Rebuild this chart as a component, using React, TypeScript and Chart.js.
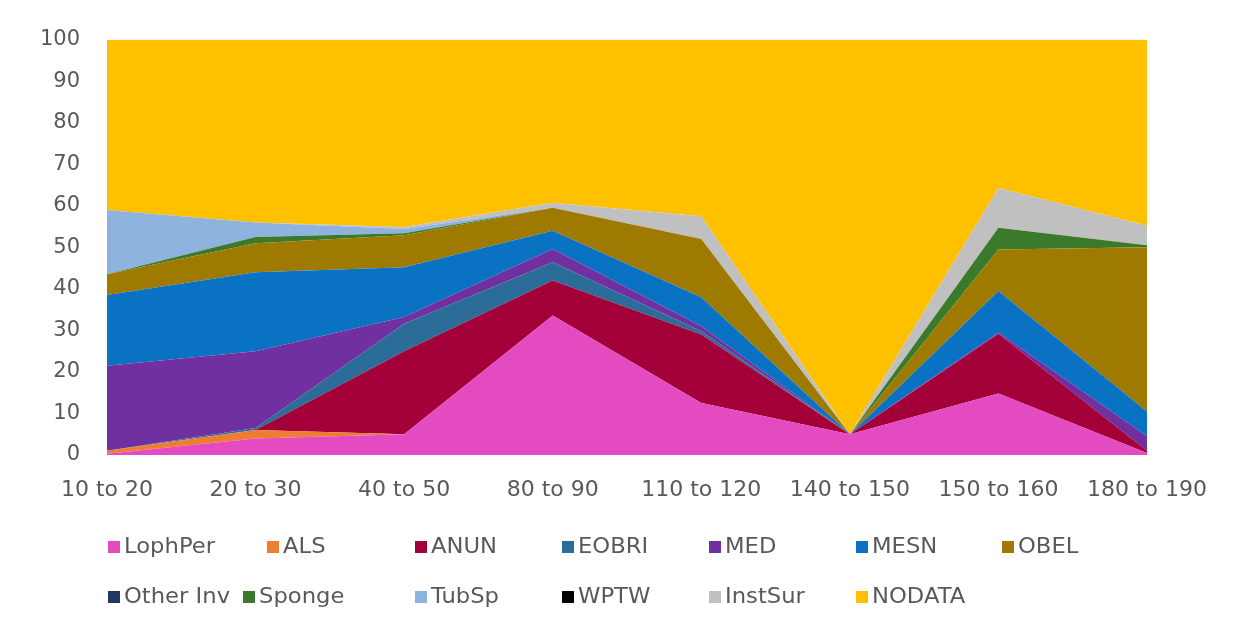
import React, { useEffect, useRef } from "react";
import { Chart, registerables } from "chart.js";

Chart.register(...registerables);

const categories = ["10 to 20", "20 to 30", "40 to 50", "80 to 90", "110 to 120", "140 to 150", "150 to 160", "180 to 190"];

const lophPer = [0.3, 4, 5, 33.6, 12.5, 5, 14.8, 0.5];
const als = [0.7, 2, 0, 0, 0, 0, 0, 0];
const anun = [0, 0, 20, 8.4, 16.5, 0, 14.4, 0.5];
const eobri = [0, 0.5, 6.6, 4.4, 0.8, 0, 0, 0];
const med = [20.5, 18.5, 1.6, 3.2, 1.2, 0, 0.3, 3.5];
const mesn = [17, 19, 12, 4.4, 7, 0, 10, 6];
const obel = [5, 7, 7.7, 5.5, 14, 0, 10, 39.5];
const otherInv = [0, 0, 0, 0, 0, 0, 0, 0];
const sponge = [0, 1.5, 0.5, 0, 0, 0, 5.2, 0.5];
const tubSp = [15.5, 3.5, 1, 0, 0, 0, 0, 0];
const wptw = [0, 0, 0, 0, 0, 0, 0, 0];
const instSur = [0, 0, 0.5, 1.2, 5.5, 0, 9.6, 4.7];
const noData = [41, 44, 45.1, 39.3, 42.5, 95, 35.7, 44.8];

const seriesNames = ["LophPer", "ALS", "ANUN", "EOBRI", "MED", "MESN", "OBEL", "Other Inv", "Sponge", "TubSp", "WPTW", "InstSur", "NODATA"];
const seriesValues = [lophPer, als, anun, eobri, med, mesn, obel, otherInv, sponge, tubSp, wptw, instSur, noData];
const seriesColors = ["#E44BC1", "#ED7D31", "#A3003A", "#2B6C98", "#7030A0", "#0A72C2", "#9E7A00", "#203864", "#3A7A2A", "#8DB3DE", "#000000", "#C0C0C0", "#FFC000"];

const yTicks = [0, 10, 20, 30, 40, 50, 60, 70, 80, 90, 100];

// legend layout (box left x, row y center)
const legendRow1X = [108, 267, 415, 562, 709, 856, 1002];
const legendRow2X = [108, 243, 415, 562, 709, 856];
const legendRowY = [547, 597];

const FONT = "'DejaVu Sans', sans-serif";
const TEXT_COLOR = "#595959";

const legendPlugin = {
  id: "customLegend",
  afterDraw(chart: any) {
    const ctx = chart.ctx;
    ctx.save();
    ctx.font = `21px ${FONT}`;
    ctx.textBaseline = "middle";
    ctx.textAlign = "left";
    const positions: [number, number][] = [];
    legendRow1X.forEach((x) => positions.push([x, legendRowY[0]]));
    legendRow2X.forEach((x) => positions.push([x, legendRowY[1]]));
    seriesNames.forEach((name, i) => {
      const [x, y] = positions[i];
      ctx.fillStyle = seriesColors[i];
      ctx.fillRect(x, y - 6, 12, 12);
      ctx.fillStyle = TEXT_COLOR;
      ctx.save();
      ctx.translate(x + 16, y);
      ctx.scale(1.08, 1);
      ctx.fillText(name, 0, 1);
      ctx.restore();
    });
    ctx.restore();
  },
};

export default function App() {
  const canvasRef = useRef<HTMLCanvasElement | null>(null);

  useEffect(() => {
    document.body.style.margin = "0";
    const canvas = canvasRef.current;
    if (!canvas) return;
    const chart = new Chart(canvas, {
      type: "line",
      data: {
        labels: categories,
        datasets: seriesNames.map((name, i) => ({
          label: name,
          data: seriesValues[i],
          backgroundColor: seriesColors[i],
          borderColor: seriesColors[i],
          borderWidth: 0,
          pointRadius: 0,
          pointHoverRadius: 0,
          tension: 0,
          fill: i === 0 ? "origin" : "-1",
        })),
      },
      options: {
        animation: false,
        responsive: false,
        maintainAspectRatio: false,
        events: [],
        layout: { padding: { left: 0, top: 38, right: 94, bottom: 118 } },
        plugins: {
          legend: { display: false },
          tooltip: { enabled: false },
          filler: { propagate: false },
        },
        scales: {
          x: {
            offset: false,
            grid: { display: false, drawTicks: false },
            border: { display: false },
            afterFit: (s: any) => {
              s.height = 60;
            },
            ticks: {
              color: TEXT_COLOR,
              font: { family: FONT, size: 22 },
              padding: 22,
              maxRotation: 0,
              autoSkip: false,
            },
          },
          y: {
            stacked: true,
            min: 0,
            max: 100,
            afterFit: (s: any) => {
              s.width = 107;
            },
            afterBuildTicks: (s: any) => {
              s.ticks = yTicks.map((v) => ({ value: v }));
            },
            grid: { display: false, drawTicks: false },
            border: { display: false },
            ticks: {
              color: TEXT_COLOR,
              font: { family: FONT, size: 21 },
              padding: 27,
            },
          },
        },
      },
      plugins: [legendPlugin],
    });
    return () => chart.destroy();
  }, []);

  return (
    <div style={{ position: "absolute", left: 0, top: 0, width: 1241, height: 633, background: "#fff" }}>
      <canvas ref={canvasRef} width={1241} height={633} style={{ display: "block" }} />
    </div>
  );
}
